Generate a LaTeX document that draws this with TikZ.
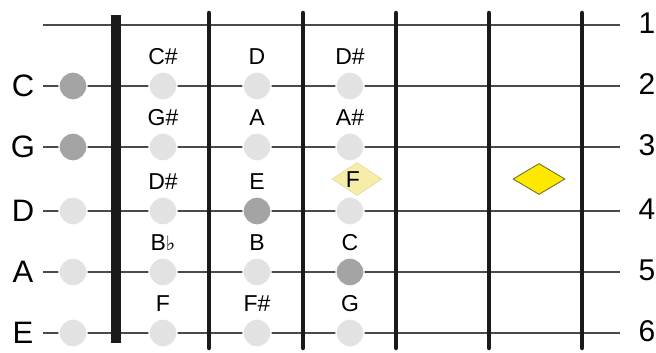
\documentclass[tikz,border=0pt]{standalone}
\usepackage{fontspec}
\setmainfont{Liberation Sans}
\newfontfamily\dejavu{DejaVu Sans}
\usetikzlibrary{shapes.geometric}
\definecolor{strcol}{HTML}{4A4A4A}
\definecolor{fretcol}{HTML}{1A1A1A}
\definecolor{dotlight}{HTML}{E2E2E2}
\definecolor{dotdark}{HTML}{A4A4A4}
\definecolor{paleyel}{HTML}{F6EDA8}
\definecolor{paleedge}{HTML}{E2D9A0}
\definecolor{brightyel}{HTML}{FFE800}
\definecolor{yeledge}{HTML}{6E6420}
\tikzset{
  stringline/.style={draw=strcol, line width=1.8pt},
  fretline/.style={draw=fretcol, line width=4.5pt, line cap=round},
  ldot/.style={circle, fill=dotlight, draw=white, line width=1.2pt, minimum size=28pt, inner sep=0pt},
  ddot/.style={circle, fill=dotdark, draw=white, line width=1.2pt, minimum size=28pt, inner sep=0pt},
  notelbl/.style={font=\fontsize{23}{23}\selectfont, inner sep=0pt, anchor=center},
  openlbl/.style={font=\fontsize{31}{31}\selectfont, inner sep=0pt, anchor=center},
  numlbl/.style={font=\fontsize{30}{30}\selectfont, inner sep=0pt, anchor=center},
}
\begin{document}
\begin{tikzpicture}[x=1pt, y=-1pt]
\useasboundingbox (0,0) rectangle (656,353);
\fill[white] (0,0) rectangle (656,353);
% strings
\foreach \n/\y in {1/25,2/86,3/147,4/211,5/272,6/333} {
  \coordinate (sL\n) at (43,\y);
  \coordinate (sR\n) at (620,\y);
  \draw[stringline] (sL\n) -- (sR\n);
  \node[numlbl] (num\n) at (647,\y-2) {\n};
}
% nut
\fill[fretcol] (111,15) rectangle (121,343);
% frets
\foreach \i/\x in {1/209,2/303,3/396,4/489,5/582} {
  \coordinate (ft\i) at (\x,13);
  \coordinate (fb\i) at (\x,348);
  \draw[fretline] (ft\i) -- (fb\i);
}
% open string labels
\node[openlbl] (oC) at (23,86) {C};
\node[openlbl] (oG) at (23,147) {G};
\node[openlbl] (oD) at (23,211) {D};
\node[openlbl] (oA) at (23,272) {A};
\node[openlbl] (oE) at (23,333) {E};
% open dots
\node[ddot] (d20) at (73,86) {};
\node[ddot] (d30) at (73,147) {};
\node[ldot] (d40) at (73,211) {};
\node[ldot] (d50) at (73,272) {};
\node[ldot] (d60) at (73,333) {};
% fret 1
\node[ldot] (d21) at (163,86) {};
\node[ldot] (d31) at (163,147) {};
\node[ldot] (d41) at (163,211) {};
\node[ldot] (d51) at (163,272) {};
\node[ldot] (d61) at (163,333) {};
% fret 2
\node[ldot] (d22) at (257,86) {};
\node[ldot] (d32) at (257,147) {};
\node[ddot] (d42) at (257,211) {};
\node[ldot] (d52) at (257,272) {};
\node[ldot] (d62) at (257,333) {};
% fret 3
\node[ldot] (d23) at (350,86) {};
\node[ldot] (d33) at (350,147) {};
\node[ldot] (d43) at (350,211) {};
\node[ddot] (d53) at (350,272) {};
\node[ldot] (d63) at (350,333) {};
% pale diamond behind F
\node[diamond, aspect=1.5, fill=paleyel, draw=paleedge, line width=0.6pt, minimum width=50pt, minimum height=33pt, inner sep=0pt] (fdia) at (357,179) {};
% note labels
\node[notelbl] (nCs) at (163,57) {C\#};
\node[notelbl] (nD) at (257,57) {D};
\node[notelbl] (nDs) at (350,57) {D\#};
\node[notelbl] (nGs) at (163,118) {G\#};
\node[notelbl] (nA) at (257,118) {A};
\node[notelbl] (nAs) at (350,118) {A\#};
\node[notelbl] (nDs2) at (163,182) {D\#};
\node[notelbl] (nE) at (257,182) {E};
\node[notelbl] (nF) at (353,180) {F};
\node[notelbl] (nBb) at (163,243) {B{\dejavu\fontsize{20}{20}\selectfont ♭}};
\node[notelbl] (nB) at (257,243) {B};
\node[notelbl] (nC) at (350,243) {C};
\node[notelbl] (nF2) at (163,304) {F};
\node[notelbl] (nFs) at (257,304) {F\#};
\node[notelbl] (nG) at (350,304) {G};
% bright diamond
\node[diamond, aspect=1.65, fill=brightyel, draw=yeledge, line width=0.8pt, minimum width=52pt, minimum height=31pt, inner sep=0pt] (ydia) at (539,179) {};
\end{tikzpicture}
\end{document}
